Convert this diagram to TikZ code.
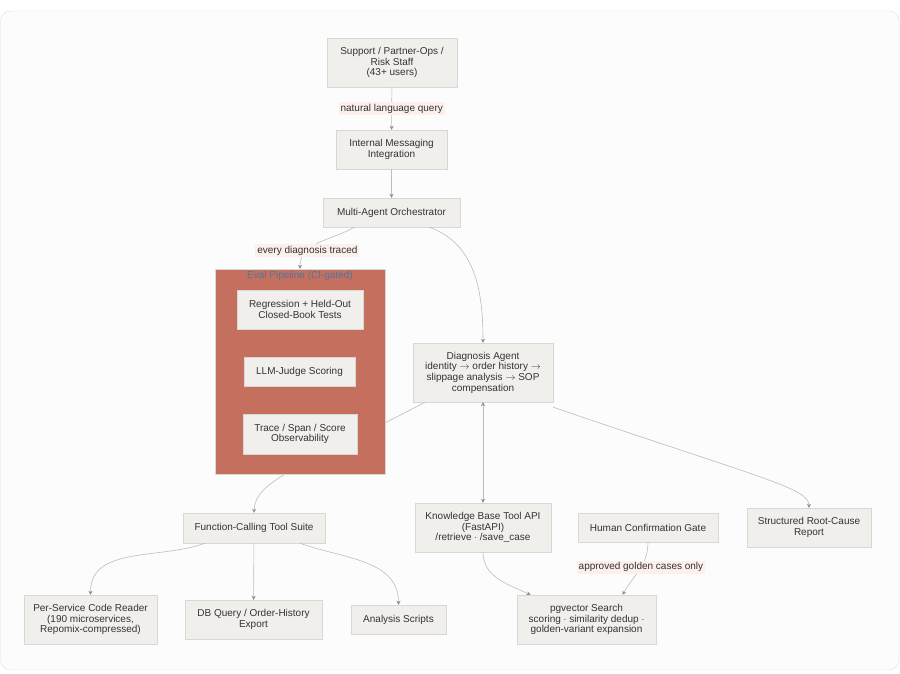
\documentclass[tikz,border=0pt]{standalone}
\usepackage{fontspec}
\setmainfont{Liberation Sans}
\usetikzlibrary{arrows.meta}
\definecolor{boxfill}{HTML}{F0EFEC}
\definecolor{boxline}{HTML}{D9D7D3}
\definecolor{edgeline}{HTML}{BDBDBD}
\definecolor{tipgray}{HTML}{8C8C8C}
\definecolor{lblfill}{HTML}{FCEFEC}
\definecolor{evalred}{HTML}{C5705F}
\definecolor{evaltitle}{HTML}{52749C}
\definecolor{framefill}{HTML}{FDFCFD}
\definecolor{frameline}{HTML}{DEDDDD}
\definecolor{txt}{HTML}{333333}
\tikzset{
  arr/.style={-{Stealth[length=4pt,width=4pt,color=tipgray]}, draw=edgeline, semithick},
  dblarr/.style={{Stealth[length=4pt,width=4pt,color=tipgray]}-{Stealth[length=4pt,width=4pt,color=tipgray]},
                 draw=edgeline, semithick},
  wbox/.style={draw=boxline, fill=boxfill, text=txt, align=center,
               font=\fontsize{10}{10.7}\selectfont, inner sep=0pt},
  elabel/.style={fill=lblfill, text=txt, inner sep=2pt,
                 font=\fontsize{10}{10.7}\selectfont},
}
\begin{document}
\begin{tikzpicture}[x=1pt, y=-1pt,
                    cluster/.style={draw=boxline, fill=evalred, minimum width=170pt,
                    minimum height=205pt, inner sep=0pt}]
\useasboundingbox (0,0) rectangle (900,673);
\draw[draw=frameline, fill=framefill, rounded corners=10pt] (0.5,11) rectangle (899,670);
\node[wbox, minimum width=130pt, minimum height=49pt] (users)   at (392,62.5)  {Support / Partner-Ops /\\Risk Staff\\(43+ users)};
\node[wbox, minimum width=111pt, minimum height=39pt] (msg)     at (391.5,149.5) {Internal Messaging\\Integration};
\node[wbox, minimum width=137pt, minimum height=29pt] (orch)    at (391.5,212.5) {Multi-Agent Orchestrator};
\node[wbox, minimum width=140pt, minimum height=59pt] (diag)    at (483,372.5) {Diagnosis Agent\\identity $\to$ order history $\to$\\slippage analysis $\to$ SOP\\compensation};
\node[wbox, minimum width=142pt, minimum height=30pt] (tools)   at (254,528)   {Function-Calling Tool Suite};
\node[wbox, minimum width=136pt, minimum height=49pt] (kbapi)   at (483,527.5) {Knowledge Base Tool API\\(FastAPI)\\/retrieve $\cdot$ /save\_case};
\node[wbox, minimum width=140pt, minimum height=29pt] (gate)    at (648,527.5) {Human Confirmation Gate};
\node[wbox, minimum width=124pt, minimum height=39pt] (report)  at (809,527.5) {Structured Root-Cause\\Report};
\node[wbox, minimum width=133pt, minimum height=49pt] (reader)  at (90.5,619.5) {Per-Service Code Reader\\(190 microservices,\\Repomix-compressed)};
\node[wbox, minimum width=137pt, minimum height=39pt] (dbquery) at (253.5,619.5) {DB Query / Order-History\\Export};
\node[wbox, minimum width=95pt, minimum height=29pt]  (scripts) at (398.5,619.5) {Analysis Scripts};
\node[wbox, minimum width=139pt, minimum height=49pt] (pgvec)   at (586.5,619.5) {pgvector Search\\scoring $\cdot$ similarity dedup $\cdot$\\golden-variant expansion};
\draw[arr] ([xshift=-58pt]diag.south) .. controls (300,468) and (255,480) .. (tools.north);
\node[cluster] (eval) at (300,371.5) {};
\node[text=evaltitle, font=\fontsize{10}{10.7}\selectfont] (evalname) at (300,276) {Eval Pipeline (CI-gated)};
\node[wbox, minimum width=126pt, minimum height=39pt] (regress) at (300,309.5) {Regression + Held-Out\\Closed-Book Tests};
\node[wbox, minimum width=111pt, minimum height=29pt] (judge)   at (299.5,371.5) {LLM-Judge Scoring};
\node[wbox, minimum width=114pt, minimum height=40pt] (trace)   at (300,434)   {Trace / Span / Score\\Observability};
\draw[arr] (users) -- node[elabel] {natural language query} (msg);
\draw[arr] (msg) -- (orch);
\draw[arr] ([xshift=-37pt]orch.south) to[out=-150,in=90] node[elabel, pos=0.7] {every diagnosis traced} (eval.north);
\draw[arr] ([xshift=38pt]orch.south) to[out=-20,in=90] (diag.north);
\draw[dblarr] (diag.south) -- (kbapi.north);
\draw[arr] ([yshift=-5pt]diag.south east) .. controls (760,478) and (809,488) .. (report.north);
\draw[arr] ([xshift=-49pt]tools.south) to[out=-160,in=90] (reader.north);
\draw[arr] (tools) -- (dbquery);
\draw[arr] ([xshift=46pt]tools.south) to[out=-20,in=90] (scripts.north);
\draw[arr] (kbapi.south) to[out=-90,in=155] ([xshift=-56pt]pgvec.north);
\draw[arr] (gate.south) to[out=-90,in=60] node[elabel, pos=0.45] {approved golden cases only} ([xshift=36pt]pgvec.north);
\end{tikzpicture}
\end{document}
